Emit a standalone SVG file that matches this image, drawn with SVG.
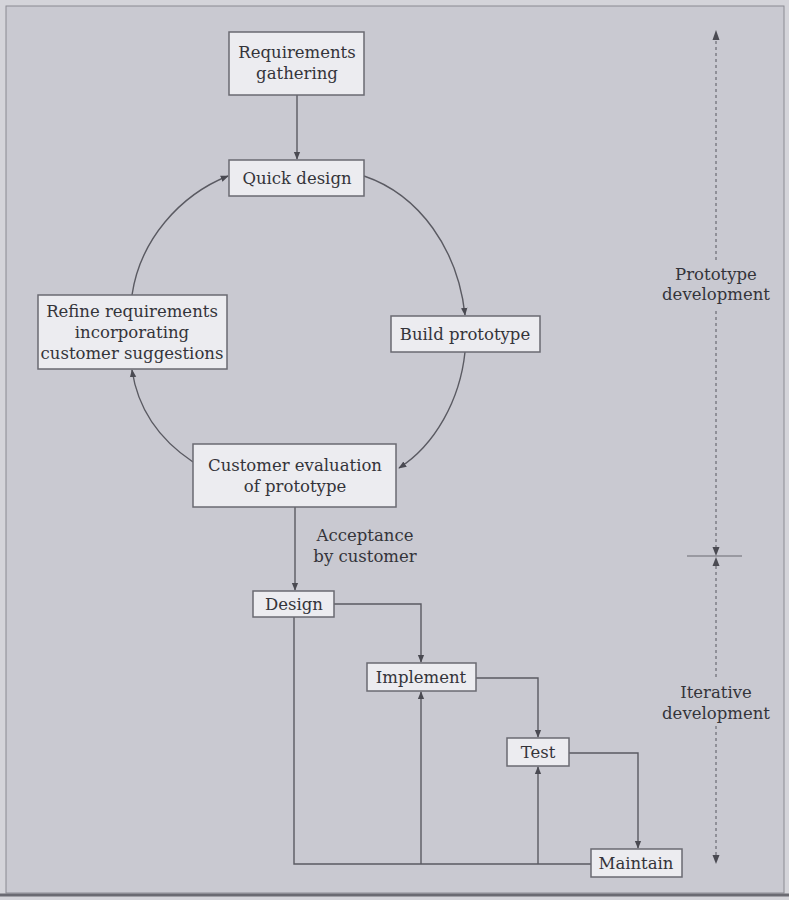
<svg xmlns="http://www.w3.org/2000/svg" width="789" height="900" viewBox="0 0 789 900">
<style>
.box{fill:#ececf0;stroke:#6a6a72;stroke-width:1.5}
.t{font-family:"DejaVu Serif","Liberation Serif",serif;font-size:16.5px;fill:#34343a;text-anchor:middle}
.c{fill:none;stroke:#5a5a62;stroke-width:1.4}
.d{fill:none;stroke:#6a6a72;stroke-width:1.2;stroke-dasharray:3,3}
</style>
<defs>
<marker id="a" viewBox="0 0 10 10" refX="9" refY="5" markerWidth="8" markerHeight="8" orient="auto" markerUnits="userSpaceOnUse"><path d="M0,1 L10,5 L0,9 z" fill="#4a4a52"/></marker>
</defs>
<rect x="0" y="0" width="789" height="900" fill="#d4d4da"/>
<rect x="6" y="6" width="778" height="887" fill="#c9c9d1" stroke="#8a8a92" stroke-width="1"/>
<line x1="0" y1="895" x2="789" y2="895" stroke="#6a6a72" stroke-width="3"/>

<g id="connectors">
<path class="c" d="M297,95 L297,159" marker-end="url(#a)"/>
<path class="c" d="M364,176 C420,195 458,250 465,315" marker-end="url(#a)"/>
<path class="c" d="M465,352 C460,400 435,445 399,468" marker-end="url(#a)"/>
<path class="c" d="M193,462 C160,440 138,410 132,370" marker-end="url(#a)"/>
<path class="c" d="M132,295 C140,240 180,195 228,176" marker-end="url(#a)"/>
<path class="c" d="M295,507 L295,590" marker-end="url(#a)"/>
<path class="c" d="M334,604 L421,604 L421,662" marker-end="url(#a)"/>
<path class="c" d="M476,678 L538,678 L538,737" marker-end="url(#a)"/>
<path class="c" d="M569,753 L638,753 L638,848" marker-end="url(#a)"/>
<path class="c" d="M294,617 L294,864 L591,864"/>
<path class="c" d="M421,864 L421,692" marker-end="url(#a)"/>
<path class="c" d="M538,864 L538,767" marker-end="url(#a)"/>
<path class="d" d="M716,548 L716,308"/>
<path class="d" d="M716,260 L716,38"/>
<path d="M716,30 L712.5,40 L719.5,40 z" fill="#4a4a52"/>
<path d="M716,556 L712.5,547 L719.5,547 z" fill="#4a4a52"/>
<path d="M716,557 L712.5,566 L719.5,566 z" fill="#4a4a52"/>
<line x1="687" y1="556" x2="742" y2="556" stroke="#6a6a72" stroke-width="1.2"/>
<path class="d" d="M716,566 L716,678"/>
<path class="d" d="M716,726 L716,856"/>
<path d="M716,864 L712.5,855 L719.5,855 z" fill="#4a4a52"/>
</g>

<g id="req"><rect class="box" x="229" y="32" width="135" height="63"/><text class="t" x="297" y="58">Requirements</text><text class="t" x="297" y="79">gathering</text></g>
<g id="quick"><rect class="box" x="229" y="160" width="135" height="36"/><text class="t" x="297" y="184">Quick design</text></g>
<g id="refine"><rect class="box" x="38" y="295" width="189" height="74"/><text class="t" x="132" y="317">Refine requirements</text><text class="t" x="132" y="338">incorporating</text><text class="t" x="132" y="359">customer suggestions</text></g>
<g id="build"><rect class="box" x="391" y="316" width="149" height="36"/><text class="t" x="465" y="340">Build prototype</text></g>
<g id="eval"><rect class="box" x="193" y="444" width="203" height="63"/><text class="t" x="295" y="471">Customer evaluation</text><text class="t" x="295" y="492">of prototype</text></g>
<g id="accept"><text class="t" x="365" y="541">Acceptance</text><text class="t" x="365" y="562">by customer</text></g>
<g id="design"><rect class="box" x="253" y="591" width="81" height="26"/><text class="t" x="294" y="610">Design</text></g>
<g id="implement"><rect class="box" x="367" y="663" width="109" height="28"/><text class="t" x="421" y="683">Implement</text></g>
<g id="test"><rect class="box" x="507" y="738" width="62" height="28"/><text class="t" x="538" y="758">Test</text></g>
<g id="maintain"><rect class="box" x="591" y="849" width="91" height="28"/><text class="t" x="636" y="869">Maintain</text></g>
<g id="proto-label"><text class="t" x="716" y="280">Prototype</text><text class="t" x="716" y="300">development</text></g>
<g id="iter-label"><text class="t" x="716" y="698">Iterative</text><text class="t" x="716" y="719">development</text></g>
</svg>
